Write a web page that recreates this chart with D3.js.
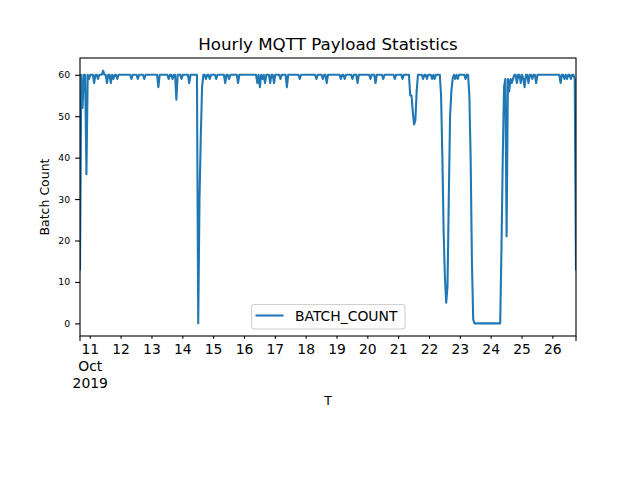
<!DOCTYPE html>
<html>
<head>
<meta charset="utf-8">
<script src="https://cdn.jsdelivr.net/npm/d3@7.9.0/dist/d3.min.js"></script>
<style>
  body { margin: 0; background: #fff; }
  svg { display: block; font-family: "DejaVu Sans", sans-serif; }
</style>
</head>
<body>
<svg id="chart" width="640" height="480"></svg>
<script>
// hourly batch counts, first reading 2019-10-10 16:00 UTC
const oct10 = [13, 60, 52, 60, 60, 36, 60, 59];
const oct11 = [60,60,60,58,60,60,59,60,60,60,61,60,60,58,60,60,58,60,59,60,60,59,60,60];
const oct12 = [60,60,60,60,60,60,60,60,59,60,60,60,60,59,60,60,60,60,59,60,60,60,60,60];
const oct13 = [60,60,60,60,60,57,60,60,60,60,60,60,60,59,60,60,59,60,60,54,60,60,60,59];
const oct14 = [60,60,60,60,60,58,60,60,60,60,60,60,0,30,45,57,60,60,59,60,60,59,60,60];
const oct15 = [60,60,59,60,60,60,60,60,60,58,60,60,59,60,60,60,60,60,60,58,60,60,60,60];
const oct16 = [60,60,60,60,60,60,60,60,60,60,58,60,57,60,59,60,58,60,60,60,58,60,60,58];
const oct17 = [60,60,60,60,59,60,60,60,60,57,60,60,60,60,60,60,60,60,60,59,60,60,60,60];
const oct18 = [60,60,60,60,60,60,60,60,59,60,60,60,60,59,60,60,58,60,60,60,60,60,60,60];
const oct19 = [60,60,60,59,60,60,59,60,60,60,60,60,59,60,60,60,58,60,60,60,60,60,60,60];
const oct20 = [60,60,59,60,60,60,58,60,60,60,60,60,59,60,60,60,60,60,60,60,60,59,60,60];
const oct21 = [60,60,60,59,60,60,60,60,60,55,55,51,48,49,56,60,60,60,60,59,60,60,59,60];
const oct22 = [60,60,59,60,59,60,60,60,60,55,40,22,11,5,9,30,50,56,59,60,59,60,59,60];
const oct23 = [60,60,60,60,59,60,60,55,40,15,1,0,0,0,0,0,0,0,0,0,0,0,0,0];
const oct24 = [0,0,0,0,0,0,0,0,18,40,57,59,21,59,56,59,58,59,60,60,58,60,60,58];
const oct25 = [60,59,57,60,60,58,60,60,59,60,60,58,60,60,60,60,60,60,60,60,60,60,60,60];
const oct26 = [60,60,60,60,60,60,58,60,60,59,60,59,60,60,59,60,60,59,13];

const yTicks = [0, 10, 20, 30, 40, 50, 60];
const seriesName = 'BATCH_COUNT';

const batchCount = [].concat(oct10, oct11, oct12, oct13, oct14, oct15, oct16,
  oct17, oct18, oct19, oct20, oct21, oct22, oct23, oct24, oct25, oct26);
const start = new Date(Date.UTC(2019, 9, 10, 16));
const data = batchCount.map((v, i) => ({ t: d3.utcHour.offset(start, i), v: v }));

const margin = { left: 80, right: 576, top: 58, bottom: 336 };
const blue = '#1f77b4';

let svg = d3.select('#chart');

let x = d3.scaleUtc()
  .domain(d3.extent(data, (d) => d.t))
  .range([margin.left, margin.right]);

// matplotlib style 5% padding
let yMax = d3.max(batchCount), yMin = d3.min(batchCount);
let pad = (yMax - yMin) * 0.05;
let y = d3.scaleLinear()
  .domain([yMin - pad, yMax + pad])
  .range([margin.bottom, margin.top]);

svg.append('defs').append('clipPath').attr('id', 'clip')
  .append('rect')
  .attr('x', margin.left).attr('y', margin.top)
  .attr('width', margin.right - margin.left)
  .attr('height', margin.bottom - margin.top);

let line = d3.line()
  .x((d) => x(d.t))
  .y((d) => y(d.v));

svg.append('path')
  .datum(data)
  .attr('d', line)
  .attr('fill', 'none')
  .attr('stroke', blue)
  .attr('stroke-width', 2.08)
  .attr('stroke-linejoin', 'round')
  .attr('stroke-linecap', 'square')
  .attr('clip-path', 'url(#clip)');

// y axis
let yAxis = svg.append('g')
  .attr('transform', `translate(${margin.left},0)`)
  .call(d3.axisLeft(y).tickValues(yTicks).tickSize(4.9).tickPadding(4.9));
yAxis.select('.domain').remove();
yAxis.selectAll('line').attr('stroke', '#000').attr('stroke-width', 1.1);
yAxis.selectAll('text')
  .attr('fill', '#000')
  .attr('font-size', '9.3px')
  .attr('font-family', 'DejaVu Sans');

// x axis: short ticks on days, longer ones at the edges
let days = d3.utcDay.range(d3.utcDay.ceil(x.domain()[0]), x.domain()[1]);
let xAxis = svg.append('g').attr('transform', `translate(0,${margin.bottom})`);
xAxis.selectAll('line.day')
  .data(days)
  .join('line')
  .attr('class', 'day')
  .attr('x1', (d) => x(d)).attr('x2', (d) => x(d))
  .attr('y1', 0).attr('y2', 2.8)
  .attr('stroke', '#000').attr('stroke-width', 1.1);
xAxis.selectAll('line.edge')
  .data(x.domain())
  .join('line')
  .attr('class', 'edge')
  .attr('x1', (d) => x(d)).attr('x2', (d) => x(d))
  .attr('y1', 0).attr('y2', 4.9)
  .attr('stroke', '#000').attr('stroke-width', 1.1);

let dayFmt = d3.utcFormat('%-d');
xAxis.selectAll('text.day')
  .data(days)
  .join('text')
  .attr('class', 'day')
  .attr('x', (d) => x(d))
  .attr('y', 17.7)
  .attr('text-anchor', 'middle')
  .attr('font-size', '13.9px')
  .each(function (d, i) {
    let t = d3.select(this);
    t.append('tspan').attr('x', x(d)).text(dayFmt(d));
    if (i === 0) {
      t.append('tspan').attr('x', x(d)).attr('dy', 16.9).text(d3.utcFormat('%b')(d));
      t.append('tspan').attr('x', x(d)).attr('dy', 16.9).text(d3.utcFormat('%Y')(d));
    }
  });

// frame
svg.append('rect')
  .attr('x', margin.left).attr('y', margin.top)
  .attr('width', margin.right - margin.left)
  .attr('height', margin.bottom - margin.top)
  .attr('fill', 'none')
  .attr('stroke', '#000')
  .attr('stroke-width', 1.1);

// labels
svg.append('text')
  .attr('x', (margin.left + margin.right) / 2)
  .attr('y', 49.5)
  .attr('text-anchor', 'middle')
  .attr('font-size', '16.7px')
  .text('Hourly MQTT Payload Statistics');

svg.append('text')
  .attr('x', (margin.left + margin.right) / 2)
  .attr('y', 405)
  .attr('text-anchor', 'middle')
  .attr('font-size', '12.5px')
  .text('T');

svg.append('text')
  .attr('transform', `translate(48.5,${(margin.top + margin.bottom) / 2}) rotate(-90)`)
  .attr('text-anchor', 'middle')
  .attr('font-size', '12.5px')
  .text('Batch Count');

// legend
let legend = svg.append('g').attr('transform', 'translate(251.5,304.5)');
legend.append('rect')
  .attr('width', 153.5).attr('height', 24.5)
  .attr('rx', 2.8)
  .attr('fill', '#fff').attr('fill-opacity', 0.8)
  .attr('stroke', '#d0d0d0').attr('stroke-width', 1.1);
legend.append('line')
  .attr('x1', 4).attr('x2', 32)
  .attr('y1', 11).attr('y2', 11)
  .attr('stroke', blue).attr('stroke-width', 2.08);
legend.append('text')
  .attr('x', 43.5).attr('y', 16.3)
  .attr('font-size', '13.9px')
  .text(seriesName);
</script>
</body>
</html>
